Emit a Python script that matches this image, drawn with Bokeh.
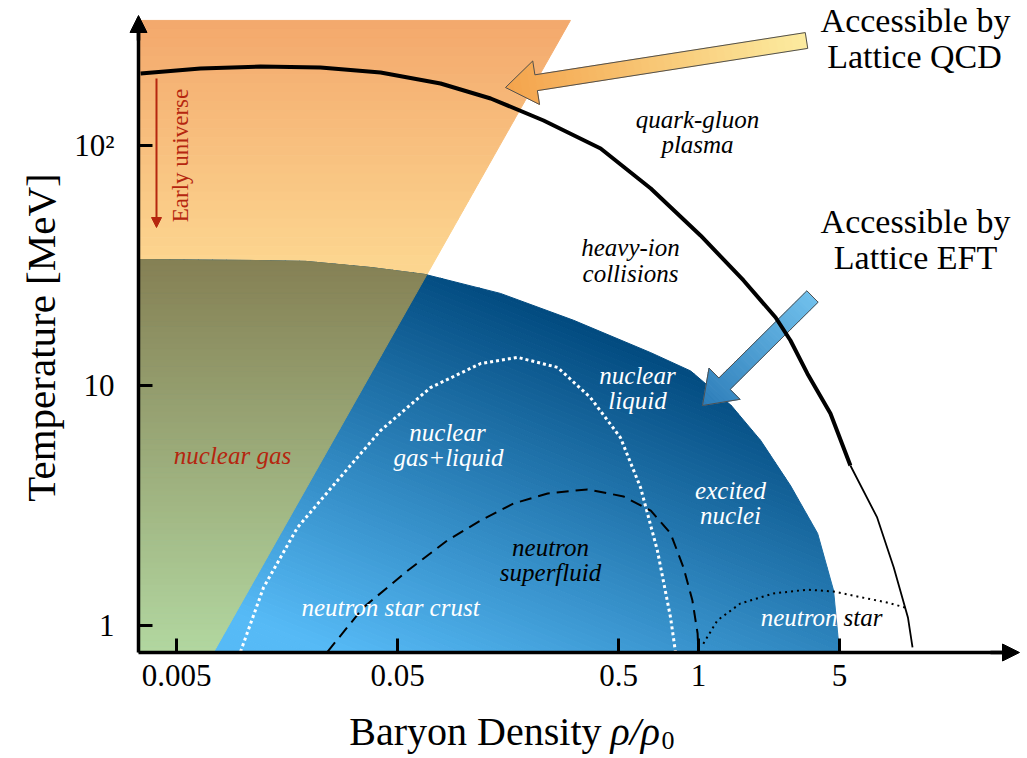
import numpy as np
from bokeh.plotting import figure
from bokeh.models import Range1d, FixedTicker, Label, Arrow, NormalHead, LogAxis
from bokeh.embed import file_html
from bokeh.resources import INLINE

# ---------------- data (baryon density rho/rho0, temperature MeV) ----------------
# boundary of the region accessible by lattice EFT (blue)
eft_density = [0.00337, 0.0108, 0.0192, 0.0381, 0.067, 0.146, 0.313, 0.70, 1.06, 1.62, 2.2, 3.0, 3.98, 4.7, 5.0]
eft_temp = [33.5, 33.2, 32.9, 31.0, 29.0, 24.2, 18.7, 13.7, 11.5, 8.25, 5.9, 3.83, 2.42, 1.40, 0.772]

# right edge of the region accessible by lattice QCD (orange wedge)
lqcd_density = [0.00735, 0.303]
lqcd_temp = [0.772, 332.0]

# QCD transition line
crit_density = [0.00344, 0.00642, 0.0120, 0.0224, 0.0419, 0.0783, 0.132, 0.229, 0.415, 0.70, 1.175,
                1.84, 2.57, 3.0, 3.58, 4.55, 5.6, 7.4, 8.8, 10.2, 10.7]
crit_temp = [199.5, 209.4, 213.4, 211.3, 201.5, 181.3, 157.0, 127.1, 97.2, 66.2, 42.2,
             27.4, 19.2, 15.4, 11.2, 7.64, 4.64, 2.82, 1.745, 1.08, 0.81]

# liquid-gas coexistence (white dotted)
lg_density = [0.00974, 0.01238, 0.01764, 0.02676, 0.0419, 0.0705, 0.119, 0.1745, 0.265, 0.373, 0.51, 0.629, 0.75, 0.86, 0.905]
lg_temp = [0.777, 1.44, 2.56, 4.02, 6.49, 9.8, 12.35, 13.1, 11.9, 8.91, 6.07, 3.76, 2.05, 1.08, 0.777]

# neutron superfluid (black dashed)
sf_density = [0.0241, 0.0351, 0.0555, 0.084, 0.119, 0.167, 0.239, 0.362, 0.527, 0.70, 0.86, 0.984, 1.08, 1.14, 1.15]
sf_temp = [0.777, 1.19, 1.69, 2.26, 2.74, 3.22, 3.55, 3.69, 3.45, 3.01, 2.42, 1.745, 1.27, 0.926, 0.777]

# neutron star (black dotted)
ns_density = [1.21, 1.40, 1.78, 2.51, 3.58, 4.7, 6.3, 8.2, 10.3]
ns_temp = [0.84, 1.05, 1.235, 1.36, 1.41, 1.386, 1.31, 1.247, 1.177]

x_ticks = [0.005, 0.05, 0.5, 1.15, 5]
x_tick_labels = ["0.005", "0.05", "0.5", "1", "5"]
y_ticks = [1, 10, 100]
y_tick_labels = ["1", "10", "10²"]

# ---------------- layout helpers ----------------
PPD_X, PPD_Y = 221.0, 240.0          # pixels per decade in the reference
W, H = 1024, 756


def at(px, py):
    """reference-pixel position -> data coordinates (for annotation placement)"""
    return 0.005 * 10 ** ((px - 176.0) / PPD_X), 10 ** ((625.0 - py) / PPD_Y)


X_MIN, Y_MIN = at(138, 652)          # axes origin
X_MAX, Y_MAX = at(1003, 18)          # axes ends
SERIF = "Liberation Serif"
RED = "#b5260f"


def to_xy(d, t):
    return (PPD_X * np.log10(d), PPD_Y * np.log10(t))


def from_xy(pts):
    return [10 ** (q[0] / PPD_X) for q in pts], [10 ** (q[1] / PPD_Y) for q in pts]


def clip(poly, n, c):
    out = []
    m = len(poly)
    for i in range(m):
        P, Q = poly[i], poly[(i + 1) % m]
        fp = n[0] * P[0] + n[1] * P[1] - c
        fq = n[0] * Q[0] + n[1] * Q[1] - c
        if fp <= 0:
            out.append(P)
        if fp * fq < 0:
            t = fp / (fp - fq)
            out.append((P[0] + t * (Q[0] - P[0]), P[1] + t * (Q[1] - P[1])))
    return out


def hexc(c):
    return "#%02x%02x%02x" % tuple(int(round(v)) for v in c)


p = figure(width=W, height=H, x_axis_type="log", y_axis_type="log",
           x_range=Range1d(at(0, 0)[0], at(W, 0)[0]), y_range=Range1d(at(0, H)[1], at(0, 0)[1]),
           x_axis_location=None, y_axis_location=None,
           output_backend="svg", toolbar_location=None,
           min_border_left=0, min_border_right=0, min_border_top=0, min_border_bottom=0)
p.grid.visible = False
p.outline_line_color = None
p.background_fill_color = "white"
p.border_fill_color = "white"


def grad_fill(poly, a0, a1, c0, c1, n=70):
    g0 = np.array(to_xy(*a0))
    g1 = np.array(to_xy(*a1))
    v = g1 - g0
    L2 = float(v @ v)
    ts = [float((np.array(q) - g0) @ v) / L2 for q in poly]
    lo, hi = min(ts) - 1e-6, max(ts) + 1e-6
    edges = np.linspace(lo, hi, n + 1)
    base = float(g0 @ v)
    xs, ys, cols = [], [], []
    for k in range(n):
        sub = clip(poly, v, base + edges[k + 1] * L2)
        sub = clip(sub, -v, -(base + edges[k] * L2))
        if len(sub) < 3:
            continue
        bx, by = from_xy(sub)
        xs.append(bx)
        ys.append(by)
        f = float(np.clip((edges[k] + edges[k + 1]) / 2, 0, 1))
        cols.append(hexc([c0[i] + (c1[i] - c0[i]) * f for i in range(3)]))
    p.patches(xs, ys, fill_color=cols, line_color=cols, line_width=1)


# orange wedge (lattice QCD)
wedge = [to_xy(X_MIN, lqcd_temp[0]), to_xy(lqcd_density[0], lqcd_temp[0]),
         to_xy(lqcd_density[1], lqcd_temp[1]), to_xy(X_MIN, lqcd_temp[1])]
grad_fill(wedge, (0.01, 332), (0.01, 33), (243, 168, 108), (252, 213, 143))

# blue region (lattice EFT)
eft_poly = [to_xy(eft_density[0], eft_temp[-1])] + [to_xy(d, t) for d, t in zip(eft_density, eft_temp)]
grad_fill(eft_poly, at(480, 275), at(330, 650), (0, 72, 125), (86, 186, 246), n=90)

# overlap region (olive -> green)
A = np.array(to_xy(lqcd_density[0], lqcd_temp[0]))
B = np.array(to_xy(lqcd_density[1], lqcd_temp[1]))
dv = B - A
olive = clip(eft_poly, (dv[1], -dv[0]), dv[1] * A[0] - dv[0] * A[1])
grad_fill(olive, (0.01, 33.5), (0.01, Y_MIN), (133, 128, 84), (178, 215, 160))


# big arrows
def big_arrow(tail, tip, c_tail, c_tip, w=8.0, hw=22.0, hl=31.0):
    T = np.array(to_xy(*tail))
    P = np.array(to_xy(*tip))
    u = (P - T) / np.linalg.norm(P - T)
    nr = np.array([-u[1], u[0]])
    b = P - u * hl
    pts = [tuple(q) for q in [T + nr * w, b + nr * w, b + nr * hw, P, b - nr * hw, b - nr * w, T - nr * w]]
    grad_fill(pts, tail, tip, c_tail, c_tip, n=40)
    ox, oy = from_xy(pts)
    p.patch(ox, oy, fill_color=None, line_color="#505050", line_width=1)


big_arrow(at(806, 40), at(505, 87), (252, 236, 160), (244, 163, 76))
big_arrow(at(812, 296), at(702, 405), (112, 192, 236), (45, 125, 185))

# lines
p.line(lg_density, lg_temp, line_color="white", line_width=3, line_dash="3 3")
p.line(sf_density, sf_temp, line_color="black", line_width=2, line_dash="12 7")
p.line(ns_density, ns_temp, line_color="black", line_width=2, line_dash="2 4")
p.line(crit_density[:17], crit_temp[:17], line_color="black", line_width=4, line_join="round")
p.line(crit_density[16:], crit_temp[16:], line_color="black", line_width=1.8, line_join="round")

# axes (drawn at fixed positions inside the canvas)
xo, yo = {}, {}
for t, s in zip(x_ticks, x_tick_labels):
    xo[t] = s
    xo[str(t)] = s
for t, s in zip(y_ticks, y_tick_labels):
    yo[t] = s
    yo[str(t)] = s

xaxis = LogAxis(fixed_location=Y_MIN, bounds=(X_MIN, X_MAX),
                ticker=FixedTicker(ticks=x_ticks, minor_ticks=[]),
                major_label_overrides=xo, major_label_standoff=12)
yaxis = LogAxis(fixed_location=X_MIN, bounds=(Y_MIN, Y_MAX),
                ticker=FixedTicker(ticks=y_ticks, minor_ticks=[]),
                major_label_overrides=yo, major_label_standoff=24)
for ax in (xaxis, yaxis):
    ax.axis_line_width = 3.5
    ax.axis_line_color = "black"
    ax.major_tick_line_width = 3
    ax.major_tick_in = 14
    ax.major_tick_out = 0
    ax.minor_tick_line_color = None
    ax.major_label_text_font = SERIF
    ax.major_label_text_font_size = "31px"
    ax.major_label_text_color = "black"
p.add_layout(xaxis, "below")
p.add_layout(yaxis, "left")

# axis arrow heads
p.add_layout(Arrow(end=NormalHead(size=17, fill_color="black", line_color="black"),
                   x_start=at(990, 652)[0], y_start=Y_MIN, x_end=at(1019, 652)[0], y_end=Y_MIN,
                   line_color="black", line_width=3.5))
p.add_layout(Arrow(end=NormalHead(size=17, fill_color="black", line_color="black"),
                   x_start=X_MIN, y_start=at(138, 40)[1], x_end=X_MIN, y_end=at(138, 15)[1],
                   line_color="black", line_width=3.5))

# early universe arrow
eu_x = at(156, 78)[0]
p.add_layout(Arrow(end=NormalHead(size=10, fill_color=RED, line_color=RED),
                   x_start=eu_x, y_start=at(156, 78)[1], x_end=eu_x, y_end=at(156, 227)[1],
                   line_color=RED, line_width=2))


def lab(px, py, text, size=25, color="black", style="italic", align="center", angle=0.0):
    """py is the reference baseline; placed with a middle baseline"""
    x, y = at(px, py - 0.34 * size) if angle == 0.0 else at(px, py)
    p.add_layout(Label(x=x, y=y, text=text, text_font=SERIF, text_font_size=f"{size}px",
                       text_font_style=style, text_color=color, text_align=align,
                       text_baseline="middle", angle=angle))


lab(697, 127, "quark-gluon")
lab(697, 152, "plasma")
lab(630, 255, "heavy-ion")
lab(630, 281, "collisions")
lab(637, 383, "nuclear", color="white")
lab(637, 408, "liquid", color="white")
lab(447, 440, "nuclear", color="white")
lab(448, 465, "gas+liquid", color="white")
lab(232, 463, "nuclear gas", color=RED)
lab(730, 498, "excited", color="white")
lab(730, 523, "nuclei", color="white")
lab(550, 555, "neutron")
lab(550, 580, "superfluid")
lab(390, 615, "neutron star crust", color="white")
lab(837, 625, "neutron", color="white", align="right")
lab(843, 625, "star", align="left")
lab(180, 155, "Early universe", size=23, color=RED, style="normal", angle=np.pi / 2)

lab(915, 32, "Accessible by", size=34, style="normal")
lab(914, 68, "Lattice QCD", size=34, style="normal")
lab(915, 233, "Accessible by", size=34, style="normal")
lab(915, 269, "Lattice EFT", size=34, style="normal")

# axis titles
lab(40, 337, "Temperature [MeV]", size=41, style="normal", angle=np.pi / 2)
lab(601, 745, "Baryon Density", size=40, style="normal", align="right")
lab(610, 745, "ρ/ρ", size=40, style="italic", align="left")
lab(661, 749, "0", size=26, style="normal", align="left")

open("out.html", "w").write(file_html(p, INLINE))
